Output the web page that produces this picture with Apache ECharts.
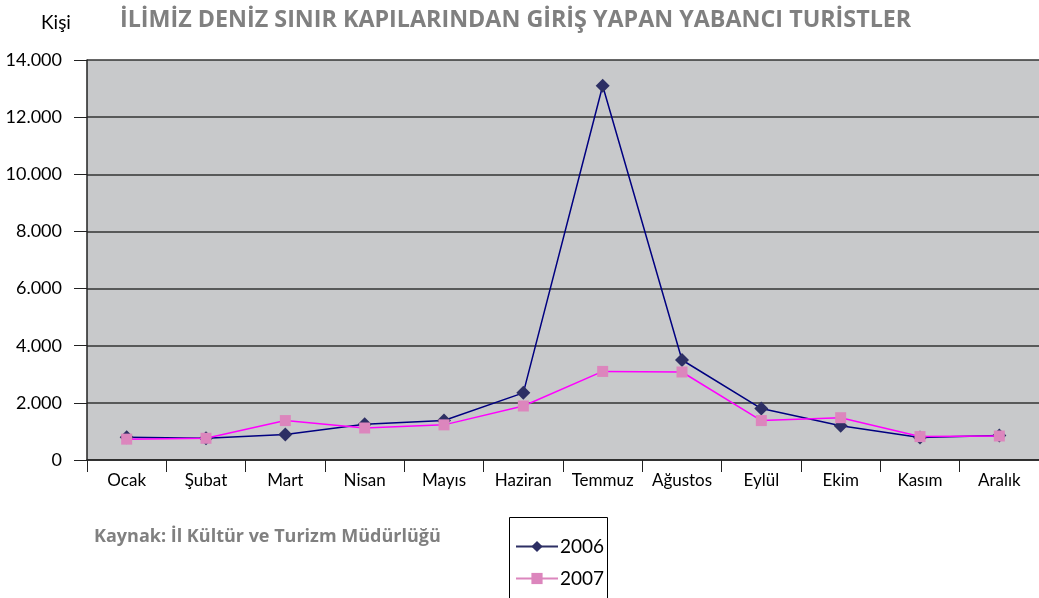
<!DOCTYPE html>
<html><head><meta charset="utf-8">
<script src="https://cdn.jsdelivr.net/npm/echarts@6/dist/echarts.min.js"></script>
<style>html,body{margin:0;padding:0;background:#fff}#c{width:1039px;height:598px}</style>
</head><body><div id="c"></div>
<script>
const months = ['Ocak','Şubat','Mart','Nisan','Mayıs','Haziran','Temmuz','Ağustos','Eylül','Ekim','Kasım','Aralık'];
const y2006 = [800, 760, 890, 1250, 1380, 2350, 13100, 3500, 1800, 1200, 790, 860];
const y2007 = [730, 760, 1380, 1120, 1230, 1890, 3100, 3080, 1380, 1480, 820, 840];
const yTicks = [0, 2000, 4000, 6000, 8000, 10000, 12000, 14000];
const fmt = v => v === 0 ? '0' : String(v).replace(/\B(?=(\d{3})+(?!\d))/g, '.');
const ch = echarts.init(document.getElementById('c'));
ch.setOption({
  animation: false,
  backgroundColor: '#fff',
  title: [
    {text: 'İLİMİZ DENİZ SINIR KAPILARINDAN GİRİŞ YAPAN YABANCI TURİSTLER', left: 115, top: 4,
     textStyle: {fontFamily: 'Open Sans', fontWeight: 'bold', fontSize: 23.3, color: '#808080'}},
    {text: 'Kişi', left: 36, top: 8, textStyle: {fontFamily: 'Lato', fontWeight: 'normal', fontSize: 19, color: '#000'}},
    {text: 'Kaynak: İl Kültür ve Turizm Müdürlüğü', left: 89, top: 523,
     textStyle: {fontFamily: 'Open Sans', fontWeight: 'bold', fontSize: 18, color: '#808080'}}
  ],
  graphic: [{type: 'rect', left: 509, top: 517, shape: {width: 98, height: 100},
    style: {fill: '#fff', stroke: '#000', lineWidth: 1}, z: 0}],
  legend: {orient: 'vertical', left: 509, top: 517, padding: [20, 8, 0, 6], itemGap: 13,
    itemWidth: 42, itemHeight: 14, z: 5,
    textStyle: {fontFamily: 'Lato', fontSize: 19, color: '#000', padding: [0, 0, 0, -3]},
    data: [{name: '2006', lineStyle: {color: '#2d2f64'}}, {name: '2007', lineStyle: {color: '#dc86bd'}}]},
  grid: {left: 87, top: 60, width: 956, height: 400, backgroundColor: '#c8c9cb', show: true, borderWidth: 0},
  xAxis: {type: 'category', data: months, boundaryGap: true,
    axisLine: {lineStyle: {color: '#222', width: 1.5}},
    axisTick: {show: true, length: 12, lineStyle: {color: '#222'}},
    axisLabel: {interval: 0, fontFamily: 'Lato', fontSize: 17, color: '#000', margin: 12}},
  yAxis: {type: 'value', min: 0, max: 14000, interval: 2000,
    axisLine: {show: true, lineStyle: {color: '#222', width: 1.5}},
    axisTick: {show: true, length: 13, lineStyle: {color: '#222'}},
    splitLine: {lineStyle: {color: '#333', width: 1.5}},
    axisLabel: {fontFamily: 'Lato', fontSize: 18, color: '#000', margin: 25,
      formatter: v => yTicks.includes(v) ? fmt(v) : ''}},
  series: [
    {name: '2006', type: 'line', data: y2006, symbol: 'diamond', symbolSize: 14,
     lineStyle: {color: '#000080', width: 1.5}, itemStyle: {color: '#2d2f64'}, z: 2},
    {name: '2007', type: 'line', data: y2007, symbol: 'rect', symbolSize: 11,
     lineStyle: {color: '#ff00ff', width: 1.5}, itemStyle: {color: '#dc86bd'}, z: 3}
  ]
});
</script></body></html>
